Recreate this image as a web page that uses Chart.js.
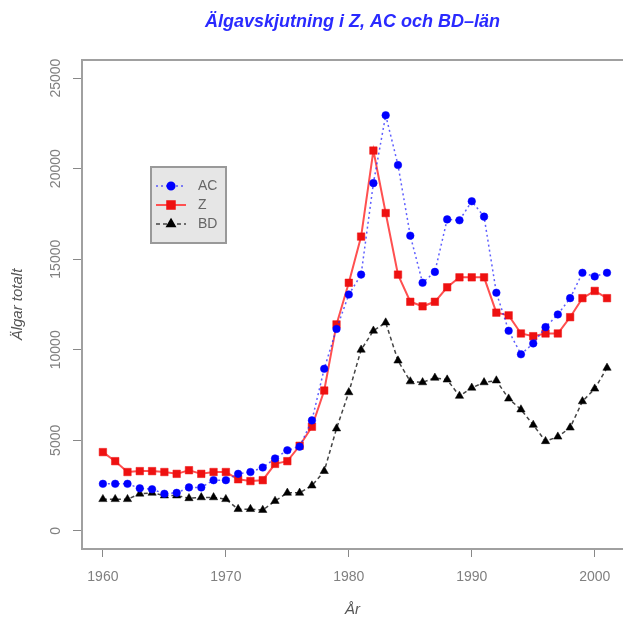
<!DOCTYPE html>
<html>
<head>
<meta charset="utf-8">
<script src="https://cdn.jsdelivr.net/npm/chart.js@4.4.1/dist/chart.umd.min.js"></script>
<style>
    html, body { margin: 0; padding: 0; background: #fff; }
</style>
</head>
<body>
<canvas id="moose" width="623" height="618"></canvas>
<script>
// ── Data ───────────────────────────────────────────────
const years = [1960, 1961, 1962, 1963, 1964, 1965, 1966, 1967, 1968, 1969,
               1970, 1971, 1972, 1973, 1974, 1975, 1976, 1977, 1978, 1979,
               1980, 1981, 1982, 1983, 1984, 1985, 1986, 1987, 1988, 1989,
               1990, 1991, 1992, 1993, 1994, 1995, 1996, 1997, 1998, 1999,
               2000, 2001];

const acValues = [2600, 2600, 2600, 2350, 2300, 2050, 2100, 2400, 2400, 2800,
                  2800, 3150, 3250, 3500, 4000, 4450, 4650, 6100, 8950, 11150,
                  13050, 14150, 19200, 22950, 20200, 16300, 13700, 14300, 17200, 17150,
                  18200, 17350, 13150, 11050, 9750, 10350, 11250, 11950, 12850, 14250,
                  14050, 14250];

const zValues  = [4350, 3850, 3250, 3300, 3300, 3250, 3150, 3350, 3150, 3250,
                  3250, 2850, 2750, 2800, 3700, 3850, 4700, 5750, 7750, 11400,
                  13700, 16250, 21000, 17550, 14150, 12650, 12400, 12650, 13450, 14000,
                  14000, 14000, 12050, 11900, 10900, 10750, 10900, 10900, 11800, 12850,
                  13250, 12850];

const bdValues = [1750, 1750, 1750, 2050, 2100, 1950, 1950, 1800, 1850, 1850,
                  1750, 1200, 1200, 1150, 1650, 2100, 2100, 2500, 3300, 5650,
                  7650, 10000, 11050, 11500, 9400, 8250, 8200, 8450, 8350, 7450,
                  7900, 8200, 8300, 7300, 6700, 5850, 4950, 5200, 5700, 7150,
                  7850, 9000];

const xTicks = [1960, 1970, 1980, 1990, 2000];
const yTicks = [0, 5000, 10000, 15000, 20000, 25000];

const FONT = "'Liberation Sans', Arial, sans-serif";

function points(values) {
    return years.map((y, i) => ({ x: y, y: values[i] }));
}

// ── Plugins ────────────────────────────────────────────
const frameBox = {
    id: "frameBox",
    beforeDatasetsDraw(chart) {
        const { ctx, chartArea: a } = chart;
        ctx.save();
        ctx.strokeStyle = "#a0a0a0";
        ctx.lineWidth = 2;
        ctx.strokeRect(a.left, a.top, a.right - a.left + 4, a.bottom - a.top);
        ctx.restore();
    }
};

const boxLegend = {
    id: "boxLegend",
    afterDraw(chart) {
        const ctx = chart.ctx;
        const left = 151, top = 167, w = 75, h = 76;
        ctx.save();
        ctx.fillStyle = "#e6e6e6";
        ctx.fillRect(left, top, w, h);
        ctx.strokeStyle = "#999";
        ctx.lineWidth = 2;
        ctx.strokeRect(left, top, w, h);

        chart.data.datasets.forEach((ds, i) => {
            const y = top + 19 + i * 19;
            ctx.strokeStyle = ds.borderColor;
            ctx.lineWidth = ds.borderWidth;
            ctx.setLineDash(ds.borderDash || []);
            ctx.beginPath();
            ctx.moveTo(left + 5, y);
            ctx.lineTo(left + 35, y);
            ctx.stroke();
            ctx.setLineDash([]);

            ctx.fillStyle = ds.pointBackgroundColor;
            ctx.strokeStyle = ds.pointBackgroundColor;
            Chart.helpers.drawPoint(ctx, {
                pointStyle: ds.pointStyle,
                radius: ds.pointRadius,
                rotation: 0,
                borderWidth: 1
            }, left + 20, y);

            ctx.fillStyle = "#666";
            ctx.font = "14px " + FONT;
            ctx.textBaseline = "middle";
            ctx.textAlign = "left";
            ctx.fillText(ds.label, left + 47, y);
        });
        ctx.restore();
    }
};

// ── Chart ──────────────────────────────────────────────
new Chart(document.getElementById("moose"), {
    type: "line",
    data: {
        datasets: [
            {
                label: "AC",
                data: points(acValues),
                borderColor: "rgba(40, 40, 255, 0.75)",
                borderWidth: 1.5,
                borderDash: [2, 3],
                pointStyle: "circle",
                pointRadius: 3.8,
                pointBackgroundColor: "#0000ff",
                pointBorderColor: "#0000ff",
                pointBorderWidth: 0.5
            },
            {
                label: "Z",
                data: points(zValues),
                borderColor: "#ff5050",
                borderWidth: 2,
                pointStyle: "rect",
                pointRadius: 5.3,
                pointBackgroundColor: "#ee1111",
                pointBorderColor: "#ee1111",
                pointBorderWidth: 0.5
            },
            {
                label: "BD",
                data: points(bdValues),
                borderColor: "#444",
                borderWidth: 1.5,
                borderDash: [4, 3],
                pointStyle: "triangle",
                pointRadius: 4.8,
                pointBackgroundColor: "#000",
                pointBorderColor: "#000",
                pointBorderWidth: 0.5
            }
        ]
    },
    options: {
        responsive: false,
        animation: false,
        devicePixelRatio: 1,
        layout: { padding: 0, autoPadding: false },
        elements: { line: { tension: 0 } },
        plugins: {
            legend: { display: false },
            tooltip: { enabled: false },
            title: {
                display: true,
                fullSize: false,
                text: "Älgavskjutning i Z, AC och BD–län",
                color: "#2a2aff",
                font: { family: FONT, size: 18, weight: "bold", style: "italic" },
                padding: { top: 11, bottom: 27.4 }
            }
        },
        scales: {
            x: {
                type: "linear",
                min: 1958.3,
                max: 2002.3,
                afterBuildTicks: s => { s.ticks = xTicks.map(v => ({ value: v })); },
                afterFit: s => { s.height = 69; s.paddingLeft = 0; s.paddingRight = 0; },
                ticks: {
                    callback: v => String(v),
                    color: "#808080",
                    font: { family: FONT, size: 14 },
                    padding: 12,
                    maxRotation: 0
                },
                grid: { drawOnChartArea: false, tickLength: 8, color: "#888" },
                border: { color: "#a0a0a0", width: 2 },
                title: {
                    display: true,
                    text: "År",
                    color: "#555",
                    font: { family: FONT, size: 15, style: "italic" },
                    padding: { top: 0, bottom: -1 }
                }
            },
            y: {
                min: -1000,
                max: 26000,
                afterBuildTicks: s => { s.ticks = yTicks.map(v => ({ value: v })); },
                afterFit: s => { s.width = 82; s.paddingTop = 0; s.paddingBottom = 0; },
                ticks: {
                    callback: v => String(v),
                    color: "#808080",
                    font: { family: FONT, size: 14 },
                    minRotation: 90,
                    maxRotation: 90,
                    crossAlign: "center",
                    autoSkip: false,
                    padding: -3
                },
                grid: { drawOnChartArea: false, tickLength: 9, color: "#888" },
                border: { color: "#b0b0b0", width: 2 },
                title: {
                    display: true,
                    text: "Älgar totalt",
                    color: "#555",
                    font: { family: FONT, size: 15, style: "italic" },
                    padding: { top: 8.5, bottom: 0 }
                }
            }
        }
    },
    plugins: [frameBox, boxLegend]
});
</script>
</body>
</html>
